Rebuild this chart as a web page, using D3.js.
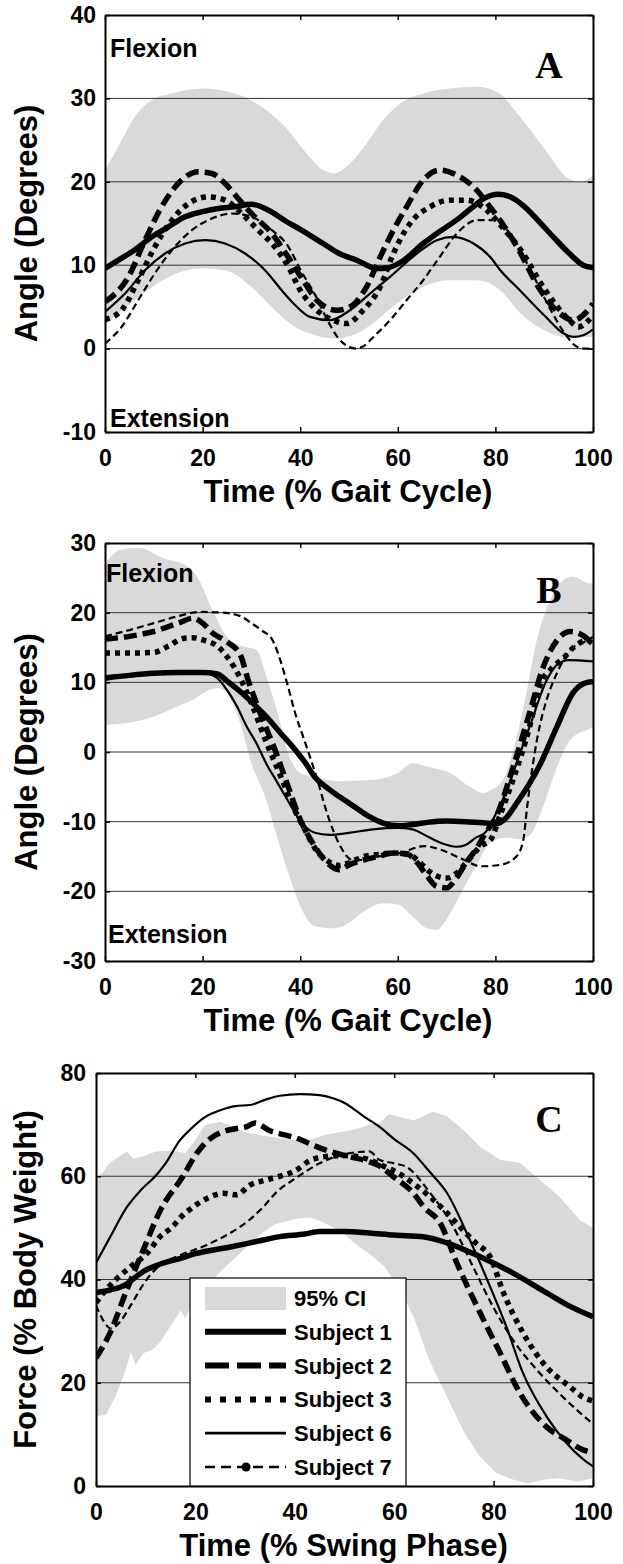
<!DOCTYPE html>
<html>
<head>
<meta charset="utf-8">
<script src="https://cdn.jsdelivr.net/npm/d3@7"></script>
<style>
  body { margin: 0; background: #fff; }
  svg text { font-family: "Liberation Sans", Arial, sans-serif; font-weight: bold; fill: #000; }
</style>
</head>
<body>
<svg id="chart"></svg>
<script>
// ---- shared ----
const xTicks = [0, 20, 40, 60, 80, 100]
const subjects = ['Subject 1', 'Subject 2', 'Subject 3', 'Subject 6', 'Subject 7']

// ---- panel A : angle (deg) vs % gait cycle ----
const aTicks = [-10, 0, 10, 20, 30, 40]
const aBandHi = [[0,21.4],[2.7,24.2],[6.1,27.8],[9.6,29.8],[13.7,30.6],[19.8,31.2],[26.6,30.6],[32.1,29],[36.9,26.6],[41.3,23.4],[44.7,21.4],[46.8,21],[50.2,22.2],[53.6,24.6],[57,27.4],[60.5,29.4],[65.2,30.6],[70.7,31.2],[76.2,31.4],[80.3,30.8],[85,27.8],[90,24],[95,20.4],[97.5,20],[100,20.8]]
const aBandLo = [[0,2.8],[6.1,5.8],[13,8.6],[19.8,9.6],[24.6,9.4],[30,7.4],[34.8,4.6],[38.9,2.6],[42,1.8],[46.8,1.2],[51.6,1.8],[55.7,3.4],[59.8,5.4],[65.2,7.4],[70.7,8.2],[76.2,8.2],[81,7],[85,4.3],[90,2.2],[95,1.3],[100,1.4]]
const aS1 = [[0,9.6],[3,10.7],[6,11.8],[9.6,13.4],[13,14.6],[16.4,15.8],[19.8,16.4],[23.2,16.8],[26.6,17],[30,17.3],[33.5,16.6],[37,15.3],[40,14.3],[44.7,12.6],[48,11.4],[51.6,10.6],[55.7,9.6],[58,9.7],[61,10.5],[65.2,12.6],[68.5,14],[72,15.4],[75,16.8],[78,18.1],[80.5,18.5],[83,18.2],[86,17],[89,15.2],[92,13.3],[95,11.5],[98,10],[100,9.7]]
const aS2 = [[0,5.6],[4.8,8.6],[8.2,13],[11.6,17],[15,19.8],[19.1,21.2],[21.9,21],[24.6,19.8],[27.3,18],[30,16.2],[34.2,13.8],[37.5,11],[40.6,8.2],[43.4,5.8],[47.5,4.6],[50.2,5],[53.6,7.4],[56.4,11],[59.1,14.2],[61.8,17],[65.2,20.2],[68.6,21.4],[72.1,20.8],[75.5,19.4],[78.9,17],[82,14.5],[85,11.6],[89,7.2],[93,4.3],[96,3.4],[98.5,4.3],[100,5.4]]
const aS3 = [[0,3.5],[3.4,4.6],[6.8,8.2],[10.2,12.2],[13.7,15.4],[17.1,17.4],[21.2,18.2],[24.6,17.8],[28,16.2],[31.4,14.2],[34.8,12.2],[37.6,9.8],[40,7],[42.7,5],[46.8,3.4],[49.5,3],[52.9,4.6],[56.4,7.4],[59.1,11.4],[62.5,15],[66.6,17],[70.7,17.8],[74.1,17.8],[78.2,16.6],[81.5,14.5],[85,12],[90,7.2],[95,3.5],[97,2.6],[100,4]]
const aS6 = [[0,4.4],[4.1,6.6],[8.2,9.4],[12.3,11.4],[16.4,12.6],[20.5,13],[24.6,12.6],[28.7,11.4],[32.8,9.4],[36.2,7],[38.5,5.5],[42,3.8],[46.1,3.4],[50.2,4.6],[54.3,6.6],[58.4,8.6],[63.9,11.4],[68,13],[71.4,13.4],[75.5,12.6],[78.9,11],[81,9.4],[85,7],[90,4],[94,1.8],[96,1.4],[98,1.6],[100,2.3]]
const aS7 = [[0,0.6],[3.4,2.6],[6.8,5.8],[10.2,9],[13.7,11.8],[17.8,14.2],[21.9,15.6],[26,16.2],[30,15.8],[34.2,14.2],[37.6,12.2],[40,9.5],[43,6.5],[45.5,3.5],[47.5,1.5],[50,0.2],[51.5,0],[53,0.3],[55,1.4],[58.4,3.4],[61.8,5.8],[65.2,8.2],[68.6,11],[72.1,13.8],[76.2,15.4],[80.3,15.4],[82,14.5],[85,11.8],[88,8.5],[91,5],[94,2],[96.5,0.3],[98,0],[100,0]]

// ---- panel B : angle (deg) vs % gait cycle ----
const bTicks = [-30, -20, -10, 0, 10, 20, 30]
const bBandHi = [[0,27],[3,29],[7,29.3],[12,27.8],[17,26.6],[19,25],[22,20.4],[25,16.5],[28,15.2],[31,14.7],[33,11],[35,6.5],[38,-1],[40,-3],[43,-3.6],[48,-4.2],[55,-4],[60,-3],[63,-1.6],[66.6,-2.2],[70.7,-3],[74.8,-5],[77.5,-5.9],[79,-5.5],[81.6,-4],[83.6,0],[86.5,9],[88.5,16.1],[90.6,20.8],[93.9,24.7],[95.9,25.2],[99.3,24.2],[100,24.2]]
const bBandLo = [[0,3.9],[5,4.2],[10,5.1],[15,6.6],[18,7.5],[21,8.8],[23,9.2],[25,8.5],[27,5.6],[30,-1.6],[33,-6.8],[35,-11.6],[38,-18.3],[40,-22.1],[43,-25],[47,-25.3],[50,-24.5],[53,-22.9],[57,-21.7],[60,-21.9],[63,-23.6],[66,-25.3],[68,-25.5],[70,-24],[73,-20.2],[76,-16.4],[79,-13],[82,-12.3],[85,-12.5],[87,-12],[89.8,-7.8],[92.6,-2.2],[95.3,1.7],[98.8,3.2],[100,3.5]]
const bS1 = [[0,10.6],[5,11],[10,11.3],[15,11.4],[20,11.4],[23,11.2],[25,10.2],[28,8.5],[30,7.2],[33,5.1],[36,2.7],[39,0.3],[41,-1.5],[43,-3.6],[46,-5.4],[48,-6.4],[51,-7.8],[54,-9.2],[57,-10.2],[60,-10.6],[63,-10.4],[66,-10.1],[70,-9.9],[74,-10],[78,-10.2],[80,-10.3],[82,-9.6],[84.4,-7.3],[87,-4.5],[89,-2],[92.6,3.6],[95.9,8.5],[98.8,10],[100,10.1]]
const bS2 = [[0,16.2],[5,16.6],[10,17.3],[15,18.5],[18,19.2],[20,18.5],[22,17.1],[25,15.8],[27.7,14],[29.3,10.4],[31.8,5.6],[35,0],[37.5,-4.9],[40,-9.7],[42.5,-13],[45,-15.5],[48,-16.9],[50,-16.2],[53,-15.5],[56,-15],[59,-14.5],[62,-14.7],[64,-15.9],[66,-17.8],[68,-19.3],[70,-19.5],[72,-18.1],[74,-15.9],[76,-14],[78,-11.6],[80,-9.5],[83.7,-2],[87,5.6],[89.8,12.2],[92.6,16],[95.3,17.3],[98,16.7],[100,15.5]]
const bS3 = [[0,14.2],[5,14.2],[10,14.3],[13,15.2],[16,16.3],[18,16.4],[20,16.1],[23,15.2],[25,13.7],[28,10.2],[30,7],[33,1.5],[36,-3.5],[39,-8.5],[41,-11.2],[43,-13.8],[46,-15.8],[48,-16.3],[50,-15.9],[53,-15],[56,-14.7],[59,-14.5],[62,-14.6],[64,-15.5],[66,-16.9],[68,-17.8],[70,-18.1],[72,-17.4],[74,-15.9],[77,-13.5],[79,-12.6],[81,-9],[83.6,-4],[87,3.6],[89,9.3],[91.8,12.2],[94,13.5],[96,15],[98.8,16],[100,15.5]]
const bS6 = [[0,10.9],[5,11.1],[10,11.3],[15,11.4],[20,11.4],[23,10.6],[25,8.9],[27,6.6],[29,3.7],[31,1.3],[33,-1.6],[35,-4],[37,-6.4],[39,-8.8],[41,-10.7],[43,-11.6],[46,-11.9],[50,-11.6],[55,-11.1],[60,-10.9],[63,-11.1],[66,-12.1],[69,-13.1],[72,-13.6],[74,-13.3],[76,-12.3],[78,-11.5],[80,-9],[82,-6],[83.6,-3],[87,3.6],[90.5,10.3],[92.6,12.5],[95,13.2],[100,13]]
const bS7 = [[0,16.6],[5,17.5],[10,18.5],[15,19.5],[18,20],[20,20.1],[24,20],[27.7,19.5],[30,18.5],[32,17.5],[34.3,16.1],[36,13],[37.5,9.4],[39,5.5],[40.8,1.8],[43.3,-3.5],[45.7,-9.2],[48.2,-13.5],[50.7,-15.5],[53,-15.5],[56,-15],[60.5,-14.5],[65.4,-13.5],[68.7,-14],[73.6,-15.5],[76.9,-16.4],[81,-16.2],[84.3,-15],[85.7,-12.7],[86.5,-7.9],[88.5,1.7],[90.5,7.5],[92.6,11.3],[95.3,14.6],[98.8,16],[100,16.5]]

// ---- panel C : force (% body weight) vs % swing phase ----
const cTicks = [0, 20, 40, 60, 80]
const cBandHi = [[0,59],[2.8,62.6],[5,64],[6.2,64.8],[7.5,63.4],[10,64],[12,64.8],[15,65],[18,64.5],[20,67],[22,70],[25,70.5],[28,69.5],[30,68.5],[33,68],[36,67.5],[40,67],[43,67],[46,68],[49,68.5],[52,69],[55,70],[57,70.3],[59,72],[61,71.5],[64,70.8],[67.8,72.5],[70.6,71.6],[73.9,69],[77.3,65.7],[81.3,63.2],[85.3,62.6],[89.3,59.3],[93.3,56],[97.4,51.5],[100,50]]
const cBandLo = [[0,13.5],[2,13.8],[4,17.5],[6,22.5],[7,26],[8,23.5],[9.5,25.7],[11.5,26.5],[13,28],[15,31],[17,34],[18,32.5],[20,36.7],[22,37],[23,39.3],[25,41.5],[27,43.3],[30,46],[33,48.7],[36,50.7],[40,51.7],[43,52],[45,51.4],[48,50],[50,48.7],[52,47],[55,45],[58,42.5],[61,38.5],[64,32.5],[67,24.5],[70.5,17.5],[74,10.5],[77,6],[80.5,2.5],[84,1.2],[87,0.5],[90,1.2],[93,1.5],[97,0.8],[100,1.5]]
const cS1 = [[0,37.5],[3,38],[6,39],[8,40.5],[10,41.8],[13,43],[17,44.1],[20,45],[27,46.3],[32,47.3],[37,48.3],[42,48.8],[45,49.3],[50,49.3],[55,49],[60,48.6],[65.8,48.3],[70.6,47.1],[77.3,44.4],[84,41.2],[90.7,37.4],[95,35],[100,32.8]]
const cS2 = [[0,24.8],[2.8,29.6],[6.2,38],[9.5,45.7],[13,53.5],[17.5,60],[20.3,64.5],[23,67.3],[25,68.4],[28,69.2],[30,69.5],[32,70.3],[35,68.8],[38,68],[40,67.5],[45,65.5],[50,64],[55,62.8],[57,62],[60,59.8],[63.8,56.8],[66,54],[69.2,51],[72.6,43.2],[77.3,33.5],[81.3,25.8],[85.3,18],[90.7,11.4],[94.7,8.9],[98,7],[100,6.5]]
const cS3 = [[0,35.5],[2,38],[4,40],[7,42.5],[10.2,45],[12.9,48.3],[15.5,50.3],[17,52],[19.5,54],[22.3,55.7],[25.6,56.7],[28.3,56.4],[31,58.3],[34.3,59.3],[37,60],[40,61],[43,63],[46,63.8],[50,64],[55,63.2],[57,62.3],[61,60.5],[64,58.5],[67.2,56],[70,53.5],[73.8,49.6],[76.5,47],[79.3,44.4],[82,37.4],[85.9,29.7],[90.7,23],[95.4,19.2],[98,17.2],[100,16.5]]
const cS6 = [[0,43.2],[3,48.5],[6.2,54],[9,57.3],[12.2,60.3],[14,62.5],[16.9,67],[18.9,69],[22,71.5],[25,72.8],[28,73.6],[31,73.8],[34,74.8],[37,75.6],[41,75.9],[45,75.7],[48,75],[50,74.2],[54,71.5],[57,69.6],[60,67.2],[63.8,64.5],[67,61],[70.6,56.8],[75.2,47.7],[79.3,38.6],[82.6,30.8],[85.9,21.9],[90.7,13.4],[94.7,8.3],[98,5.2],[100,3.8]]
const cS7 = [[0,35],[1.5,32],[3,30.5],[5,32],[6.8,34.7],[10.2,40],[13.5,43.2],[16.9,44.7],[22.3,46.7],[27,49],[30.3,51.1],[33.6,54],[36.4,57],[40,59.5],[45,62.5],[50,64.3],[55,64.8],[57,63.2],[60,62.5],[62.5,61.8],[67.2,56.8],[71.9,50.2],[75.9,42.4],[79.9,34.7],[83.9,28.3],[88.7,22.5],[94,17.2],[100,12]]

// line looks, same order as subjects
const looks = [
    { w: 5.5, dash: null, legendDash: null },
    { w: 5.5, dash: '13,6', legendDash: '24,8' },
    { w: 5.5, dash: '5,5', legendDash: '6,9' },
    { w: 2.2, dash: null, legendDash: null },
    { w: 2.2, dash: '7,4', legendDash: '10,6' }
]

const width = 623
const height = 1564
const plotRight = 593

const svg = d3.select('#chart')
    .attr('width', width)
    .attr('height', height)

function drawPanel(p) {
    const x = d3.scaleLinear().domain([0, 100]).range([p.left, plotRight])
    const y = d3.scaleLinear().domain(d3.extent(p.yTicks)).range([p.bottom, p.top])

    svg.append('clipPath').attr('id', 'clip' + p.letter)
        .append('rect')
        .attr('x', p.left).attr('y', p.top)
        .attr('width', plotRight - p.left).attr('height', p.bottom - p.top)

    const inner = svg.append('g').attr('clip-path', `url(#clip${p.letter})`)

    // 95% CI band
    const edge = d3.line().x(d => x(d[0])).y(d => y(d[1])).curve(p.bandCurve)
    inner.append('path')
        .attr('d', edge(p.bandHi) + edge(p.bandLo.slice().reverse()).replace('M', 'L') + 'Z')
        .attr('fill', '#d9d9d9')

    // grid
    inner.selectAll('.grid')
        .data(p.yTicks.slice(1, -1))
        .enter()
        .append('line')
        .attr('x1', p.left).attr('x2', plotRight)
        .attr('y1', d => y(d)).attr('y2', d => y(d))
        .attr('stroke', '#333')
        .attr('stroke-width', 1)

    // subjects
    const trace = d3.line().x(d => x(d[0])).y(d => y(d[1])).curve(d3.curveMonotoneX)
    p.series.forEach((s, i) => {
        inner.append('path')
            .attr('d', trace(s))
            .attr('fill', 'none')
            .attr('stroke', '#000')
            .attr('stroke-width', looks[i].w)
            .attr('stroke-dasharray', looks[i].dash)
            .attr('stroke-linejoin', 'round')
    })

    // box with inward ticks, plain hyphen for negatives
    const plain = d => String(d)
    const styleAxis = g => {
        g.select('.domain').attr('stroke-width', 2)
        g.selectAll('.tick line').attr('stroke-width', 1.5)
        g.selectAll('text').attr('font-size', 23).attr('fill', '#000')
            .style('font-family', '"Liberation Sans", Arial, sans-serif').style('font-weight', 'bold')
    }
    svg.append('g').attr('transform', `translate(${p.left},0)`)
        .call(d3.axisLeft(y).tickValues(p.yTicks).tickFormat(plain).tickSizeInner(-5).tickSizeOuter(0).tickPadding(p.left - p.labelRight))
        .call(styleAxis)
    svg.append('g').attr('transform', `translate(${plotRight},0)`)
        .call(d3.axisRight(y).tickValues(p.yTicks).tickSizeInner(-5).tickSizeOuter(0).tickFormat(''))
        .call(styleAxis)
    svg.append('g').attr('transform', `translate(0,${p.bottom})`)
        .call(d3.axisBottom(x).tickValues(xTicks).tickFormat(plain).tickSizeInner(-5).tickSizeOuter(0).tickPadding(18))
        .call(styleAxis)
    svg.append('g').attr('transform', `translate(0,${p.top})`)
        .call(d3.axisTop(x).tickValues(xTicks).tickSizeInner(-5).tickSizeOuter(0).tickFormat(''))
        .call(styleAxis)

    // titles
    svg.append('text')
        .attr('x', (p.left + plotRight) / 2 - 1)
        .attr('y', p.bottom + 70)
        .attr('text-anchor', 'middle')
        .attr('font-size', 31)
        .text(p.xTitle)
    svg.append('text')
        .attr('transform', `translate(${p.yTitleX},${(p.top + p.bottom) / 2}) rotate(-90)`)
        .attr('text-anchor', 'middle')
        .attr('font-size', 31)
        .text(p.yTitle)

    svg.append('text')
        .attr('x', 549).attr('y', p.top + p.letterDy)
        .attr('text-anchor', 'middle')
        .attr('font-size', 38)
        .style('font-family', '"Liberation Serif", "Times New Roman", serif')
        .text(p.letter)

    if (p.flexY) {
        svg.append('text').attr('x', p.flexX).attr('y', p.flexY).attr('font-size', 25).text('Flexion')
        svg.append('text').attr('x', p.extX).attr('y', p.extY).attr('font-size', 25).text('Extension')
    }
    return { x, y }
}

drawPanel({
    letter: 'A', top: 15, bottom: 432, left: 105, labelRight: 96,
    yTicks: aTicks, bandHi: aBandHi, bandLo: aBandLo, bandCurve: d3.curveMonotoneX,
    series: [aS1, aS2, aS3, aS6, aS7],
    xTitle: 'Time (% Gait Cycle)', yTitle: 'Angle (Degrees)', yTitleX: 37,
    letterDy: 63, flexX: 110, flexY: 57, extX: 110, extY: 427
})

drawPanel({
    letter: 'B', top: 543, bottom: 961, left: 105, labelRight: 96,
    yTicks: bTicks, bandHi: bBandHi, bandLo: bBandLo, bandCurve: d3.curveMonotoneX,
    series: [bS1, bS2, bS3, bS6, bS7],
    xTitle: 'Time (% Gait Cycle)', yTitle: 'Angle (Degrees)', yTitleX: 37,
    letterDy: 60, flexX: 106, flexY: 582, extX: 108, extY: 943
})

drawPanel({
    letter: 'C', top: 1073, bottom: 1486, left: 96, labelRight: 86,
    yTicks: cTicks, bandHi: cBandHi, bandLo: cBandLo, bandCurve: d3.curveLinear,
    series: [cS1, cS2, cS3, cS6, cS7],
    xTitle: 'Time (% Swing Phase)', yTitle: 'Force (% Body Weight)', yTitleX: 36,
    letterDy: 59
})

// legend in panel C
const legend = svg.append('g')
legend.append('rect')
    .attr('x', 190).attr('y', 1278)
    .attr('width', 216).attr('height', 1486 - 1278)
    .attr('fill', '#fff').attr('stroke', '#000').attr('stroke-width', 1.2)

const rowY = d3.range(6).map(i => 1298 + i * 33.8)
legend.append('rect')
    .attr('x', 205).attr('y', rowY[0] - 11)
    .attr('width', 81).attr('height', 23)
    .attr('fill', '#d9d9d9')
legend.append('text').attr('x', 294).attr('y', rowY[0] + 8).attr('font-size', 22).text('95% CI')

subjects.forEach((name, i) => {
    const yy = rowY[i + 1]
    legend.append('line')
        .attr('x1', 205).attr('x2', 286)
        .attr('y1', yy).attr('y2', yy)
        .attr('stroke', '#000')
        .attr('stroke-width', looks[i].w + 0.5)
        .attr('stroke-dasharray', looks[i].legendDash)
    if (i === 4) {
        legend.append('circle').attr('cx', 246).attr('cy', yy).attr('r', 4.5).attr('fill', '#000')
    }
    legend.append('text').attr('x', 294).attr('y', yy + 8).attr('font-size', 22).text(name)
})
</script>
</body>
</html>
